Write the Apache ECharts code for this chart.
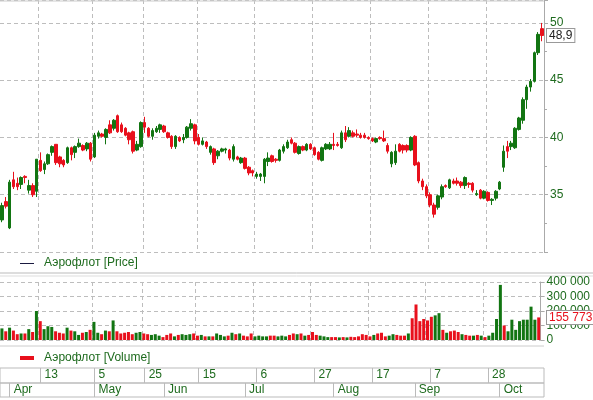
<!DOCTYPE html>
<html><head><meta charset="utf-8">
<script src="https://cdn.jsdelivr.net/npm/echarts@6/dist/echarts.min.js"></script>
<style>html,body{margin:0;padding:0;background:#fff}#c{width:593px;height:400px}</style>
</head><body><div id="c"></div>
<script>
// OHLC: [open, close, low, high]
const ohlc = [
[32.8,34.05,32.6,34.3],[34.4,34.0,33.8,34.8],[32.1,36.1,32.0,36.3],[36.3,35.7,35.5,37.0],[36.0,35.7,35.4,36.5],
[35.9,36.5,35.5,36.6],[36.6,36.5,36.0,36.7],[35.4,35.8,35.1,36.3],[35.8,35.0,34.8,36.0],[35.3,38.1,34.8,38.1],
[38.0,37.1,37.0,38.7],[37.2,37.7,36.8,37.9],[37.7,38.5,37.6,38.6],[38.7,39.2,38.4,39.3],[39.4,37.8,37.6,39.4],
[38.3,37.7,37.4,38.4],[38.0,37.6,37.4,38.1],[37.8,39.1,37.7,39.2],[39.1,38.5,38.0,39.2],[38.7,39.2,38.2,39.3],
[39.2,39.5,39.1,39.9],[39.3,38.9,38.8,39.4],[39.0,39.5,38.8,39.6],[39.5,38.1,37.9,39.6],[38.3,40.2,38.2,40.4],
[40.1,40.4,39.9,40.6],[40.3,40.1,40.0,40.4],[40.0,40.7,39.4,40.8],[41.1,40.4,40.3,41.5],[40.8,41.5,40.6,41.6],
[41.9,40.5,40.4,42.0],[41.1,40.5,40.4,41.3],[40.8,40.2,40.1,40.9],[40.4,39.8,39.4,40.5],[40.5,38.8,38.6,40.6],
[38.9,39.4,38.8,39.7],[39.2,41.3,39.1,41.4],[41.3,40.9,40.4,41.8],[40.8,40.1,40.0,40.9],[40.1,40.6,39.8,40.8],
[40.5,40.8,40.4,41.0],[40.7,41.1,40.4,41.2],[41.0,40.5,40.4,41.1],[40.4,40.0,39.9,40.5],[40.1,39.2,39.0,40.2],
[39.2,40.1,39.0,40.2],[40.0,39.7,39.6,40.1],[39.8,40.0,39.5,40.3],[40.0,40.9,39.9,41.0],[40.8,41.2,40.6,41.6],
[41.1,39.7,39.4,41.2],[40.0,39.4,39.3,40.3],[39.4,39.7,39.3,40.0],[39.6,39.2,39.0,39.7],[38.7,39.2,38.5,39.3],
[39.0,37.8,37.6,39.1],[38.4,38.8,38.1,38.9],[38.8,39.0,38.7,39.1],[38.9,39.0,38.6,39.1],[38.9,38.2,38.0,39.0],
[38.1,39.2,37.9,39.4],[38.3,38.1,38.0,38.4],[37.8,38.2,37.7,38.3],[38.2,37.3,37.2,38.3],[37.4,36.9,36.7,37.5],
[37.1,36.9,36.6,37.2],[36.6,36.8,36.4,37.0],[36.6,36.8,36.2,36.9],[36.6,38.1,36.0,38.2],[37.9,38.2,37.5,38.7],
[38.4,37.9,37.8,38.5],[38.1,38.0,37.8,38.2],[38.0,38.9,37.9,39.0],[38.8,39.2,38.6,39.4],[39.1,39.6,39.0,39.8],
[39.8,39.5,39.4,40.0],[39.5,38.7,38.6,39.6],[38.6,39.2,38.5,39.3],[39.2,38.9,38.8,39.3],[38.9,39.4,38.8,39.5],
[39.4,39.0,38.9,39.5],[39.1,38.5,38.4,39.2],[38.7,38.1,38.0,38.8],[38.0,39.1,37.9,39.2],[39.0,39.4,38.9,39.5],
[39.0,39.4,38.9,39.6],[39.4,39.3,38.9,40.4],[39.4,39.3,39.2,39.6],[39.1,40.4,39.0,40.6],[40.4,39.8,39.6,41.0],
[40.1,40.6,40.0,40.9],[40.4,40.1,40.0,40.6],[40.3,40.2,40.0,40.7],[40.2,40.0,39.9,40.4],[40.2,40.0,39.9,40.4],
[40.0,39.9,39.8,40.1],[39.9,39.7,39.6,40.0],[39.6,39.9,39.5,40.0],[40.0,39.9,39.8,40.1],[39.9,39.7,39.6,40.6],
[39.3,38.8,38.6,39.5],[37.7,38.7,37.4,38.8],[37.8,38.8,37.6,39.4],[39.4,38.8,38.7,39.5],[39.3,38.9,38.6,39.4],
[39.3,38.9,38.7,39.4],[38.9,40.0,38.8,40.1],[40.1,37.6,37.5,40.2],[37.8,36.2,36.0,37.9],[36.2,35.7,35.4,36.4],
[35.7,34.9,34.7,35.9],[35.0,34.1,33.9,35.2],[34.1,33.3,33.0,34.3],[33.9,34.9,33.7,35.0],[34.8,35.7,34.6,35.9],
[35.8,35.7,35.6,35.9],[35.6,36.3,35.5,36.4],[36.2,36.0,35.9,36.4],[36.2,36.0,35.8,36.5],[36.1,35.8,35.6,36.2],
[35.8,36.5,35.5,36.6],[36.0,35.9,35.6,36.1],[36.0,35.4,35.2,36.1],[35.0,35.1,34.9,35.4],[35.4,34.7,34.6,35.5],
[34.7,35.3,34.6,35.4],[35.2,34.5,34.4,35.3],[34.5,34.6,34.1,34.7],[34.7,35.3,34.5,35.4],[35.5,36.1,35.4,36.2],
[37.4,38.8,37.0,39.3],[39.2,38.8,38.2,39.7],[39.2,39.5,38.9,39.7],[39.1,40.8,39.0,40.9],[40.7,41.7,40.6,41.8],
[41.5,43.3,41.2,43.5],[43.3,44.4,42.5,44.6],[44.4,44.9,44.0,45.1],[44.9,47.4,44.8,47.5],[47.4,49.0,47.2,49.2],
[49.5,48.9,48.4,50.0]
];
// volume in thousands
const volumeK = [
80,60,85,65,40,45,45,75,55,200, 130,75,95,90,60,50,45,85,65,60,
35,50,55,70,125,50,40,65,60,135, 60,45,50,55,40,50,55,45,40,35,
40,30,20,35,45,25,35,40,35,40, 45,30,35,25,25,25,45,35,25,30,
50,40,45,30,25,45,25,30,25,25, 30,30,25,30,25,35,45,40,45,30,
35,55,35,30,25,20,20,20,18,20, 18,22,20,25,40,35,25,35,45,50,
25,30,40,35,30,30,45,150,245,130, 145,135,160,170,185,70,50,60,65,55,
40,35,30,30,35,30,20,30,50,145, 380,100,60,140,70,130,140,140,230,140,
155.773
];
const startDate = '2015-03-30';
const holidays = ['2015-05-01','2015-05-04','2015-05-11','2015-06-12'];
const dayTickDates = ['2015-04-13','2015-05-05','2015-05-25','2015-06-15','2015-07-06','2015-07-27','2015-08-17','2015-09-07','2015-09-28'];
const monthNames = ['Jan','Feb','Mar','Apr','May','Jun','Jul','Aug','Sep','Oct','Nov','Dec'];
const priceTicks = [35,40,45,50];
const lastPriceLabel = '48,9';
const lastVolumeLabel = '155 773';

const dates = [];
{ let d = new Date(startDate + 'T00:00:00Z');
  while (dates.length < ohlc.length) {
    const s = d.toISOString().slice(0,10), w = d.getUTCDay();
    if (w !== 0 && w !== 6 && holidays.indexOf(s) < 0) dates.push(s);
    d.setUTCDate(d.getUTCDate()+1);
  } }
const dayIdx = new Set(dayTickDates.map(s => dates.indexOf(s)));
const monthIdx = new Set();
dates.forEach((s,i)=>{ if (i>0 && s.slice(5,7)!==dates[i-1].slice(5,7)) monthIdx.add(i); });
monthIdx.add(dates.findIndex(s=>s.slice(5,7)==='04'));

const UP='#127512', DN='#e8101c', GRIDC='#bdbdbd', TXT='#1e6b1e';
const candleData = ohlc.map(r=>[r[0],r[1],r[2],r[3]]);
const volData = volumeK.map((v,i)=>({value:v*1000, itemStyle:{color: ohlc[i][1]>=ohlc[i][0]?UP:DN}}));
const font = 'Liberation Sans';
const dashed = {show:true, lineStyle:{color:GRIDC, type:[4,3], width:1}};

const chart = echarts.init(document.getElementById('c'), null, {renderer:'canvas'});
const gridR = 49;
const opt = {
  animation:false, backgroundColor:'#fff',
  textStyle:{fontFamily:font},
  grid:[
    {left:0,right:gridR,top:0,height:252},
    {left:0,right:gridR,top:282,height:58},
    {left:0,right:gridR,top:368,height:15, show:true, borderColor:'#bbb', borderWidth:1},
    {left:0,right:gridR,top:383,height:14, show:true, borderColor:'#bbb', borderWidth:1}
  ],
  xAxis:[
    {type:'category',gridIndex:0,data:dates,boundaryGap:true,axisLine:{show:false},axisTick:{show:false},axisLabel:{show:false},
     splitLine:Object.assign({interval:(i)=>dayIdx.has(i)},dashed)},
    {type:'category',gridIndex:1,data:dates,boundaryGap:true,axisLine:{show:false},axisTick:{show:false},axisLabel:{show:false},
     splitLine:Object.assign({interval:(i)=>dayIdx.has(i)},dashed)},
    {type:'category',gridIndex:2,data:dates,boundaryGap:true,axisLine:{show:false},
     axisTick:{show:true,inside:true,length:15,alignWithLabel:true,interval:(i)=>dayIdx.has(i),lineStyle:{color:'#bbb'}},
     axisLabel:{show:true,inside:true,margin:2,align:'left',padding:[0,0,0,4],color:TXT,fontSize:12,fontFamily:font,
       interval:(i)=>dayIdx.has(i), formatter:(v)=>String(parseInt(v.slice(8,10),10))}},
    {type:'category',gridIndex:3,data:dates,boundaryGap:true,axisLine:{show:false},
     axisTick:{show:true,inside:true,length:14,alignWithLabel:true,interval:(i)=>monthIdx.has(i),lineStyle:{color:'#bbb'}},
     axisLabel:{show:true,inside:true,margin:1,align:'left',padding:[0,0,0,4],color:TXT,fontSize:12,fontFamily:font,
       interval:(i)=>monthIdx.has(i), formatter:(v)=>monthNames[parseInt(v.slice(5,7),10)-1]}}
  ],
  yAxis:[
    {type:'value',gridIndex:0,position:'right',min:30,max:52,interval:5,
     axisLine:{show:true,lineStyle:{color:'#aaa'}},axisTick:{show:true,length:4,lineStyle:{color:'#aaa'}},
     minorTick:{show:true,splitNumber:2,length:3,lineStyle:{color:'#aaa'}},
     axisLabel:{color:TXT,fontSize:12,fontFamily:font,margin:6,showMaxLabel:false,showMinLabel:false,
       formatter:(v)=>priceTicks.indexOf(v)>=0?String(v):''},
     splitLine:dashed},
    {type:'value',gridIndex:1,position:'right',min:0,max:400000,interval:100000,
     axisLine:{show:true,lineStyle:{color:'#aaa'}},axisTick:{show:true,length:4,lineStyle:{color:'#aaa'}},
     axisLabel:{color:TXT,fontSize:12,fontFamily:font,margin:6,formatter:(v)=>v===0?'0':String(v/1000)+' 000'},
     splitLine:dashed},
    {type:'value',gridIndex:2,show:false},
    {type:'value',gridIndex:3,show:false}
  ],
  series:[
    {type:'candlestick',xAxisIndex:0,yAxisIndex:0,data:candleData,barWidth:3,
     itemStyle:{color:UP,color0:DN,borderColor:UP,borderColor0:DN,borderWidth:1}},
    {type:'bar',xAxisIndex:1,yAxisIndex:1,data:volData,barWidth:3}
  ]
};
chart.setOption(opt);

const lastI = ohlc.length-1;
const pY = chart.convertToPixel({yAxisIndex:0}, ohlc[lastI][1]);
const vY = chart.convertToPixel({yAxisIndex:1}, volumeK[lastI]*1000);
const axX = 593-gridR;
chart.setOption({graphic:[
  {type:'line',shape:{x1:0,y1:1,x2:axX,y2:1},style:{stroke:'#ccc'}},
  {type:'line',shape:{x1:0,y1:273,x2:593,y2:273},style:{stroke:'#bbb'}},
  {type:'line',shape:{x1:0,y1:276,x2:593,y2:276},style:{stroke:'#ddd'}},
  {type:'line',shape:{x1:0,y1:346,x2:axX,y2:346},style:{stroke:'#ccc'}},
  {type:'line',shape:{x1:20,y1:263.5,x2:34,y2:263.5},style:{stroke:'#1a1a40',lineWidth:1}},
  {type:'text',x:44,y:263,style:{text:'Аэрофлот [Price]',fill:TXT,font:'12px '+font,textVerticalAlign:'middle'}},
  {type:'line',shape:{x1:20,y1:358,x2:34,y2:358},style:{stroke:DN,lineWidth:4}},
  {type:'text',x:44,y:358,style:{text:'Аэрофлот [Volume]',fill:TXT,font:'12px '+font,textVerticalAlign:'middle'}},
  {type:'text',x:axX+3,y:pY,z:10,style:{text:lastPriceLabel,fill:'#222',font:'12px '+font,textVerticalAlign:'middle',
     backgroundColor:'#fff',borderColor:'#999',borderWidth:1,padding:[1,2,0,2]}},
  {type:'text',x:axX+3,y:vY,z:10,style:{text:lastVolumeLabel,fill:DN,font:'12px '+font,textVerticalAlign:'middle',
     backgroundColor:'#fff',borderColor:'#999',borderWidth:1,padding:[1,2,0,2]}}
]});
</script></body></html>
